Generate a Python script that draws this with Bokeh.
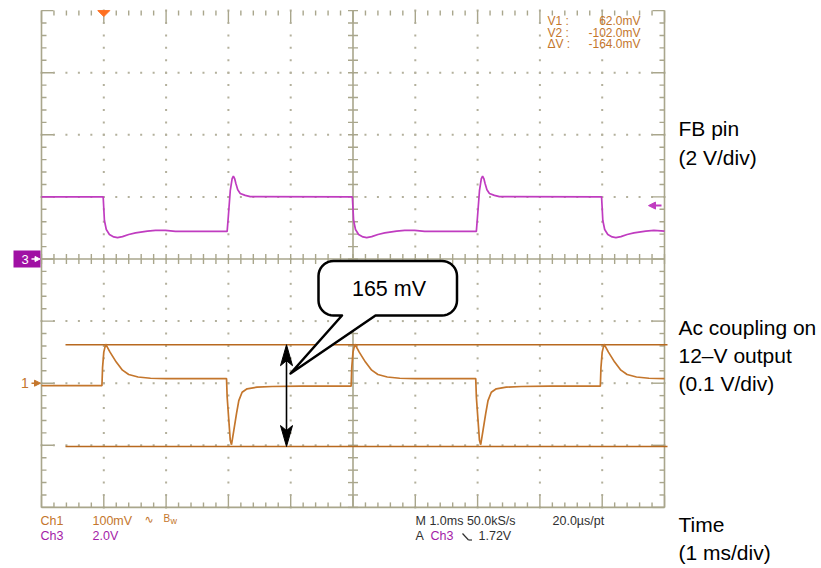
import numpy as np
from bokeh.plotting import figure
from bokeh.models import Range1d, Label, Arrow, NormalHead
from bokeh.embed import file_html
from bokeh.resources import INLINE

# ---------------- data read from the scope capture ----------------
# Ch3 : FB pin (volts) versus time (ms)
ch3_t = [0.00, 0.99, 1.01, 1.04, 1.09, 1.16, 1.22, 1.30, 1.40, 1.51, 1.70, 1.83, 1.99, 2.15,
         2.98, 3.00, 3.03, 3.06, 3.08, 3.10, 3.12, 3.15, 3.19, 3.27, 3.35,
         4.99, 5.01, 5.04, 5.09, 5.16, 5.22, 5.30, 5.40, 5.51, 5.70, 5.83, 5.99, 6.15,
         6.98, 7.00, 7.03, 7.06, 7.08, 7.10, 7.12, 7.15, 7.19, 7.27, 7.35,
         8.99, 9.01, 9.04, 9.09, 9.16, 9.22, 9.30, 9.40, 9.51, 9.70, 9.83, 10.00]
ch3_v = [2.00, 2.00, 1.24, 0.95, 0.79, 0.71, 0.69, 0.72, 0.79, 0.84, 0.90, 0.92, 0.92, 0.89,
         0.89, 1.40, 2.20, 2.59, 2.67, 2.59, 2.43, 2.23, 2.11, 2.05, 2.01,
         2.00, 1.24, 0.95, 0.79, 0.71, 0.69, 0.72, 0.79, 0.84, 0.90, 0.92, 0.92, 0.89,
         0.89, 1.40, 2.20, 2.59, 2.67, 2.59, 2.43, 2.23, 2.11, 2.05, 2.01,
         2.00, 1.24, 0.95, 0.79, 0.71, 0.69, 0.72, 0.79, 0.84, 0.90, 0.92, 0.90]

# Ch1 : 12-V output, ac coupled (mV) versus time (ms)
ch1_t = [0.00, 0.97, 0.98, 1.00, 1.03, 1.10, 1.20, 1.30, 1.40, 1.55, 1.75, 2.00,
         2.97, 2.98, 3.007, 3.03, 3.05, 3.087, 3.13, 3.167, 3.22, 3.30, 3.46, 3.70, 4.16,
         4.97, 4.98, 5.00, 5.03, 5.10, 5.20, 5.30, 5.40, 5.55, 5.75, 6.00,
         6.97, 6.98, 7.007, 7.03, 7.05, 7.087, 7.13, 7.167, 7.22, 7.30, 7.46, 7.70, 8.16,
         8.97, 8.98, 9.00, 9.03, 9.10, 9.20, 9.30, 9.40, 9.55, 9.75, 10.00]
ch1_mv = [-4.0, -4.0, 25.0, 50.0, 63.0, 50.0, 34.0, 21.0, 14.0, 10.0, 8.0, 7.5,
          7.5, -22.0, -60.0, -92.0, -99.0, -76.0, -49.0, -28.0, -14.5, -9.0, -6.4, -5.3, -4.8,
          -4.8, 25.0, 50.0, 63.0, 50.0, 34.0, 21.0, 14.0, 10.0, 8.0, 7.5,
          7.5, -22.0, -60.0, -92.0, -99.0, -76.0, -49.0, -28.0, -14.5, -9.0, -6.4, -5.3, -4.8,
          -4.8, 25.0, 50.0, 63.0, 50.0, 34.0, 21.0, 14.0, 10.0, 8.0, 7.5]

ch1_scale_mv = 100.0      # mV/div
ch3_scale_v = 2.0         # V/div
ch1_pos_div = -2.0
ch3_pos_div = 0.0
cursor_v1_mv = 62.0
cursor_v2_mv = -102.0
trigger_time_ms = 1.0
trigger_level_v = 1.72
n_hdiv, n_vdiv = 10, 8

readout_labels = ["V1 :", "V2 :", "\u0394V :"]
readout_values = ["62.0mV", "-102.0mV", "-164.0mV"]
side_labels = ["FB pin", "(2 V/div)", "Ac coupling on", "12\u2013V output", "(0.1 V/div)",
               "Time", "(1 ms/div)"]
side_label_y = [128, 157, 327, 355, 383, 524, 552]
callout_text = "165 mV"

# ---------------- geometry ----------------
W, H = 821, 568
PX_T, PX_D = 62.3, 62.1          # pixels per ms, pixels per division
T0_PX, D0_PX = 41.0, 258.5       # picture pixel of t=0 and of div 0


def X(px):
    return (px - T0_PX) / PX_T


def Y(py):
    return (D0_PX - py) / PX_D


def dx(n):
    return n / PX_T


def dy(n):
    return n / PX_D


p = figure(width=W, height=H,
           x_range=Range1d(X(0), X(W)), y_range=Range1d(Y(H), Y(0)),
           output_backend="svg", toolbar_location=None, min_border=0,
           x_axis_location=None, y_axis_location=None,
           outline_line_color=None, background_fill_color="white")
p.grid.visible = False

GRID = "#a9a68c"
DOT = "#b3b09c"
ORANGE = "#c4762c"
ORANGE_CUR = "#b8691f"
MAGENTA = "#c03cc0"
MAG_TXT = "#a41ca8"
DARK = "#303030"
FONT = "Liberation Sans"

# ---------------- graticule ----------------
tmin = np.round(np.arange(0, n_hdiv + 1e-9, 0.2), 6)
dmin = np.round(np.arange(-n_vdiv / 2, n_vdiv / 2 + 1e-9, 0.2), 6)

dots_x, dots_y = [], []
for tv in range(1, n_hdiv):
    if tv == n_hdiv // 2:
        continue
    for d in dmin:
        dots_x.append(tv); dots_y.append(d)
for dv in range(-n_vdiv // 2 + 1, n_vdiv // 2):
    if dv == 0:
        continue
    for t in tmin:
        dots_x.append(t); dots_y.append(dv)
p.scatter(dots_x, dots_y, marker="square", size=2, fill_color=DOT, line_color=None)

top, bot = n_vdiv / 2, -n_vdiv / 2
p.segment([0, n_hdiv, 0, n_hdiv / 2, 0], [bot, bot, bot, bot, 0],
          [0, n_hdiv, n_hdiv, n_hdiv / 2, n_hdiv], [top, top, bot, top, 0],
          line_color=GRID, line_width=1.6)

x0s, y0s, x1s, y1s = [], [], [], []
for d in dmin:
    major = abs(d - round(d)) < 1e-6
    L = 12 if major else 5
    x0s += [0, n_hdiv, n_hdiv / 2 - dx(5)]
    x1s += [dx(L), n_hdiv - dx(L), n_hdiv / 2 + dx(5)]
    y0s += [d, d, d]
    y1s += [d, d, d]
for t in tmin:
    major = abs(t - round(t)) < 1e-6
    L = 12 if major else 5
    x0s += [t, t, t]
    x1s += [t, t, t]
    y0s += [bot, top, -dy(5)]
    y1s += [bot + dy(L), top - dy(L), dy(5)]
p.segment(x0s, y0s, x1s, y1s, line_color=GRID, line_width=1.4)

# ---------------- cursors ----------------
cy1 = ch1_pos_div + cursor_v1_mv / ch1_scale_mv
cy2 = ch1_pos_div + cursor_v2_mv / ch1_scale_mv
p.segment([X(65), X(65)], [cy1, cy2], [X(667), X(667)], [cy1, cy2],
          line_color=ORANGE_CUR, line_width=1.6)

# ---------------- traces ----------------
p.line(ch3_t, [ch3_pos_div + v / ch3_scale_v for v in ch3_v], line_color=MAGENTA, line_width=1.7)
p.line(ch1_t, [ch1_pos_div + v / ch1_scale_mv for v in ch1_mv], line_color=ORANGE, line_width=1.7)

# ---------------- markers ----------------
p.patch([trigger_time_ms - dx(6), trigger_time_ms + dx(6), trigger_time_ms],
        [top, top, top - dy(6)], fill_color="#ff7020", line_color="#ff7020")
tl = ch3_pos_div + trigger_level_v / ch3_scale_v
p.add_layout(Arrow(end=NormalHead(size=7, fill_color=MAGENTA, line_color=MAGENTA),
                   x_start=X(661), y_start=tl, x_end=X(648), y_end=tl,
                   line_color=MAGENTA, line_width=2))
p.quad(left=X(13), right=X(40), top=ch3_pos_div + dy(8.5), bottom=ch3_pos_div - dy(8.5),
       fill_color="#a010a4", line_color=None)
p.add_layout(Label(x=X(24.5), y=ch3_pos_div, text="3", text_color="white",
                   text_font=FONT, text_font_size="13px",
                   text_align="center", text_baseline="middle"))
p.add_layout(Arrow(end=NormalHead(size=5, fill_color="white", line_color="white"),
                   x_start=X(31), y_start=ch3_pos_div, x_end=X(39.5), y_end=ch3_pos_div,
                   line_color="white", line_width=1.5))
p.add_layout(Label(x=X(24.5), y=ch1_pos_div, text="1", text_color=ORANGE,
                   text_font=FONT, text_font_size="14px",
                   text_align="center", text_baseline="middle"))
p.add_layout(Arrow(end=NormalHead(size=6, fill_color=ORANGE, line_color=ORANGE),
                   x_start=X(31), y_start=ch1_pos_div, x_end=X(40), y_end=ch1_pos_div,
                   line_color=ORANGE, line_width=1.6))

# ---------------- cursor readouts ----------------
for i, (lab, val) in enumerate(zip(readout_labels, readout_values)):
    yy = Y(20.7 + 11.6 * i)
    p.add_layout(Label(x=X(547), y=yy, text=lab, text_color=ORANGE,
                       text_font=FONT, text_font_size="12px",
                       text_align="left", text_baseline="middle"))
    p.add_layout(Label(x=X(640), y=yy, text=val, text_color=ORANGE,
                       text_font=FONT, text_font_size="12px",
                       text_align="right", text_baseline="middle"))


# ---------------- bottom status texts ----------------
def txt(xp, yp, s, color, size="12.5px", font=FONT):
    p.add_layout(Label(x=X(xp), y=Y(yp), text=s, text_color=color,
                       text_font=font, text_font_size=size,
                       text_align="left", text_baseline="middle"))


txt(40, 520, "Ch1", ORANGE)
txt(92, 520, "100mV", ORANGE)
txt(144, 519, "\u223f", ORANGE, "11px", "DejaVu Sans")
txt(163, 518, "B", ORANGE, "10px")
txt(170, 520, "w", ORANGE, "9px")
txt(40, 535, "Ch3", MAG_TXT)
txt(92, 535, "2.0V", MAG_TXT)
txt(415, 520, "M 1.0ms 50.0kS/s", DARK)
txt(552, 520, "20.0\u00b5s/pt", DARK)
txt(415, 535, "A", DARK)
txt(430, 535, "Ch3", MAG_TXT)
txt(478, 535, "1.72V", DARK)
p.segment([X(462), X(468)], [Y(533), Y(539.5)], [X(468), X(471.5)], [Y(539.5), Y(539.5)],
          line_color=DARK, line_width=1.2)

# ---------------- right side labels ----------------
for s, yp in zip(side_labels, side_label_y):
    txt(678, yp, s, "black", "21px")

# ---------------- callout bubble ----------------
L_, R_, T_, B_, r = 318.0, 456.5, 260.5, 315.0, 15.0
path = [(375.0, B_), (R_ - r, B_)]
for a in np.linspace(90, 0, 10):
    path.append((R_ - r + r * np.cos(np.radians(a)), B_ - r + r * np.sin(np.radians(a))))
for a in np.linspace(0, -90, 10):
    path.append((R_ - r + r * np.cos(np.radians(a)), T_ + r + r * np.sin(np.radians(a))))
for a in np.linspace(-90, -180, 10):
    path.append((L_ + r + r * np.cos(np.radians(a)), T_ + r + r * np.sin(np.radians(a))))
for a in np.linspace(180, 90, 10):
    path.append((L_ + r + r * np.cos(np.radians(a)), B_ - r + r * np.sin(np.radians(a))))
path += [(341.5, B_), (290.0, 373.0), (375.0, B_)]
p.patch([X(a) for a, b in path], [Y(b) for a, b in path],
        fill_color="white", line_color="black", line_width=2.5, line_join="round")
p.add_layout(Label(x=X(388.5), y=Y(288), text=callout_text, text_color="black",
                   text_font=FONT, text_font_size="21.5px",
                   text_align="center", text_baseline="middle"))

# ---------------- double arrow between cursors ----------------
ax = X(286)
p.line([ax, ax], [cy1 - dy(10), cy2 + dy(10)], line_color="black", line_width=1.6)
hx = [ax, ax + dx(6), ax, ax - dx(6)]
p.patch(hx, [cy1, cy1 - dy(21), cy1 - dy(16), cy1 - dy(21)], fill_color="black", line_color="black")
p.patch(hx, [cy2, cy2 + dy(21), cy2 + dy(16), cy2 + dy(21)], fill_color="black", line_color="black")

open("out.html", "w").write(file_html(p, INLINE))
